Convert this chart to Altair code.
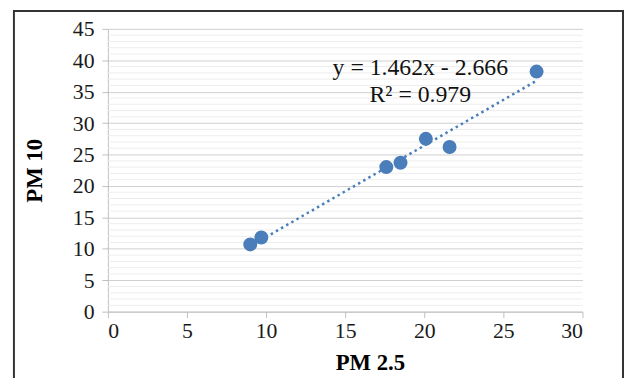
import altair as alt
import pandas as pd

pm25 = [9.0, 9.7, 17.6, 18.5, 20.1, 21.6, 27.1]
pm10 = [10.7, 11.8, 23.0, 23.7, 27.5, 26.2, 38.2]
eq_text = ["y = 1.462x - 2.666", "R\u00b2 = 0.979"]
eq_x = [19.75, 19.75]
eq_y = [37.6, 33.35]
minor_y = [v for v in range(0, 46) if v % 5 != 0]

FONT = "Liberation Serif"
BLUE = "#4A7EBB"

df = pd.DataFrame({"pm25": pm25, "pm10": pm10})
eq = pd.DataFrame({"t": eq_text, "x": eq_x, "y": eq_y})
minor = pd.DataFrame({"y": minor_y})

xs = alt.Scale(domain=[0, 30], nice=False)
ys = alt.Scale(domain=[0, 45], nice=False)

x_axis = alt.Axis(title="PM 2.5", values=[0, 5, 10, 15, 20, 25, 30],
                  grid=False, titleX=265, titleY=59,
                  titleBaseline="alphabetic", titleAlign="center",
                  labelOverlap=False)
y_axis = alt.Axis(title="PM 10", values=list(range(0, 46, 5)),
                  grid=True, titlePadding=26, labelOverlap=False)

minor_grid = alt.Chart(minor).mark_rule(color="#EDEDED", strokeWidth=1).encode(
    y=alt.Y("y:Q", scale=ys, axis=y_axis)
)

points = alt.Chart(df).mark_circle(size=200, color=BLUE, opacity=1).encode(
    x=alt.X("pm25:Q", scale=xs, axis=x_axis),
    y=alt.Y("pm10:Q", scale=ys, axis=y_axis),
)

trend = alt.Chart(df).transform_regression("pm25", "pm10").mark_line(
    color=BLUE, strokeWidth=2.5, strokeDash=[2.5, 3.5]
).encode(x=alt.X("pm25:Q", scale=xs, axis=x_axis),
         y=alt.Y("pm10:Q", scale=ys, axis=y_axis))

labels = alt.Chart(eq).mark_text(
    font=FONT, fontSize=24, color="#111111", align="center", baseline="alphabetic"
).encode(x=alt.X("x:Q", scale=xs, axis=x_axis),
         y=alt.Y("y:Q", scale=ys, axis=y_axis), text="t:N")

frame = alt.Chart(pd.DataFrame({"a": [0]})).mark_rect(
    fill=None, stroke="#333333", strokeWidth=2, clip=False
).encode(
    x=alt.value(-95), x2=alt.value(521), y=alt.value(-18), y2=alt.value(400)
)

chart = alt.layer(minor_grid, trend, points, labels, frame).properties(
    width=480, height=286,
    autosize=alt.AutoSizeParams(type="none"),
    padding={"left": 101, "top": 19, "right": 42, "bottom": 65},
).configure_view(stroke=None).configure_axis(
    labelFont=FONT, titleFont=FONT, labelFontSize=22, titleFontSize=23,
    labelColor="#1a1a1a", titleColor="#000000", titleFontWeight="bold",
    domainColor="#BFBFBF", tickColor="#BFBFBF", gridColor="#CFCFCF",
    tickSize=6, labelPadding=3,
).configure_axisY(labelPadding=8)

chart.save("out.html", embed_options={"renderer": "svg", "actions": False})
